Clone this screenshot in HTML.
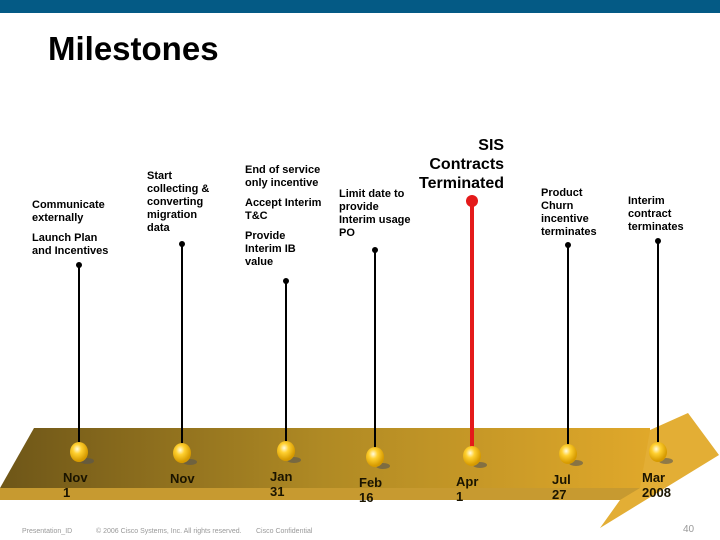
<!DOCTYPE html>
<html><head><meta charset="utf-8"><style>
body{margin:0;width:720px;height:540px;position:relative;overflow:hidden;background:#fff;font-family:"Liberation Sans",sans-serif}
.t{position:absolute;font-size:11px;line-height:13px;color:#000;font-weight:bold;white-space:nowrap}
.t p{margin:0 0 7px 0}
</style></head><body>
<div style="position:absolute;left:0;top:0;width:720px;height:13px;background:#045a85"></div>
<div style="position:absolute;left:48px;top:30px;font-size:33px;font-weight:bold">Milestones</div>
<svg width="720" height="540" style="position:absolute;left:0;top:0">
<defs>
<linearGradient id="g" x1="0" x2="1"><stop offset="0" stop-color="#6e5618"/><stop offset="0.5" stop-color="#b08a24"/><stop offset="1" stop-color="#e0a82a"/></linearGradient>
<radialGradient id="d" cx="0.4" cy="0.35" r="0.6"><stop offset="0" stop-color="#fffbe0"/><stop offset="0.4" stop-color="#ffd030"/><stop offset="1" stop-color="#d69a00"/></radialGradient>
</defs>
<polygon points="34,428 650,428 650,488 0,488" fill="url(#g)"/>
<polygon points="0,488 650,488 640,500 0,500" fill="#c79a30"/>
<polygon points="688,413 719,455 600,528 620,500 640,488 650,430" fill="#e3ae35"/>
<g id="marks"></g>
</svg>
<div class="t" style="left:32px;top:199px"><p>Communicate<br>externally</p><p>Launch Plan<br>and Incentives</p></div>
<div class="t" style="left:147px;top:170px">Start<br>collecting &amp;<br>converting<br>migration<br>data</div>
<div class="t" style="left:245px;top:164px"><p>End of service<br>only incentive</p><p>Accept Interim<br>T&amp;C</p><p>Provide<br>Interim IB<br>value</p></div>
<div class="t" style="left:339px;top:188px">Limit date to<br>provide<br>Interim usage<br>PO</div>
<div class="t" style="left:419px;top:136px;font-size:16px;line-height:19px;text-align:right">SIS<br>Contracts<br>Terminated</div>
<div class="t" style="left:541px;top:187px">Product<br>Churn<br>incentive<br>terminates</div>
<div class="t" style="left:628px;top:195px">Interim<br>contract<br>terminates</div>
<div style="position:absolute;left:22px;top:528px;font-size:7px;color:#999">Presentation_ID</div>
<div style="position:absolute;left:96px;top:528px;font-size:7px;color:#999">© 2006 Cisco Systems, Inc. All rights reserved.</div>
<div style="position:absolute;left:256px;top:528px;font-size:7px;color:#999">Cisco Confidential</div>
<div style="position:absolute;left:683px;top:524px;font-size:10px;color:#999">40</div>
<script>
const dates=["Nov\n1","Nov","Jan\n31","Feb\n16","Apr\n1","Jul\n27","Mar\n2008"];
const dotX=[79,182,286,375,472,568,658];
const dotY=[452,453,451,457,456,454,452];
const lineTop=[265,244,281,250,201,245,241];
const red=[0,0,0,0,1,0,0];
const g=document.getElementById('marks');
const ns="http://www.w3.org/2000/svg";
function mk(t,a){const e=document.createElementNS(ns,t);for(const k in a)e.setAttribute(k,a[k]);g.appendChild(e);return e;}
dates.forEach((d,i)=>{
  const c=red[i]?"#e41a1a":"#000";
  const l=mk('line',{x1:dotX[i],y1:lineTop[i],x2:dotX[i],y2:dotY[i],stroke:c,'stroke-width':red[i]?4:2});
  
  
  const h=mk('circle',{cx:dotX[i],cy:lineTop[i],r:red[i]?6:3,fill:c});
  
  
  const s=mk('ellipse',{cx:dotX[i]+8,cy:dotY[i]+9,rx:7,ry:3,fill:"#555",opacity:0.6});
  
  
  const o=mk('ellipse',{cx:dotX[i],cy:dotY[i],rx:9,ry:10,fill:"url(#d)"});
  
  
  const lines=d.split("\n");
  lines.forEach((t,j)=>{
    const tx=mk('text',{x:dotX[i]-16+(i==1?4:0),y:dotY[i]+30+j*15,'font-family':'Liberation Sans, sans-serif','font-size':13,'font-weight':'bold',fill:'#1a1400'});
    tx.textContent=t;
    
    
  });
});
</script>
</body></html>
